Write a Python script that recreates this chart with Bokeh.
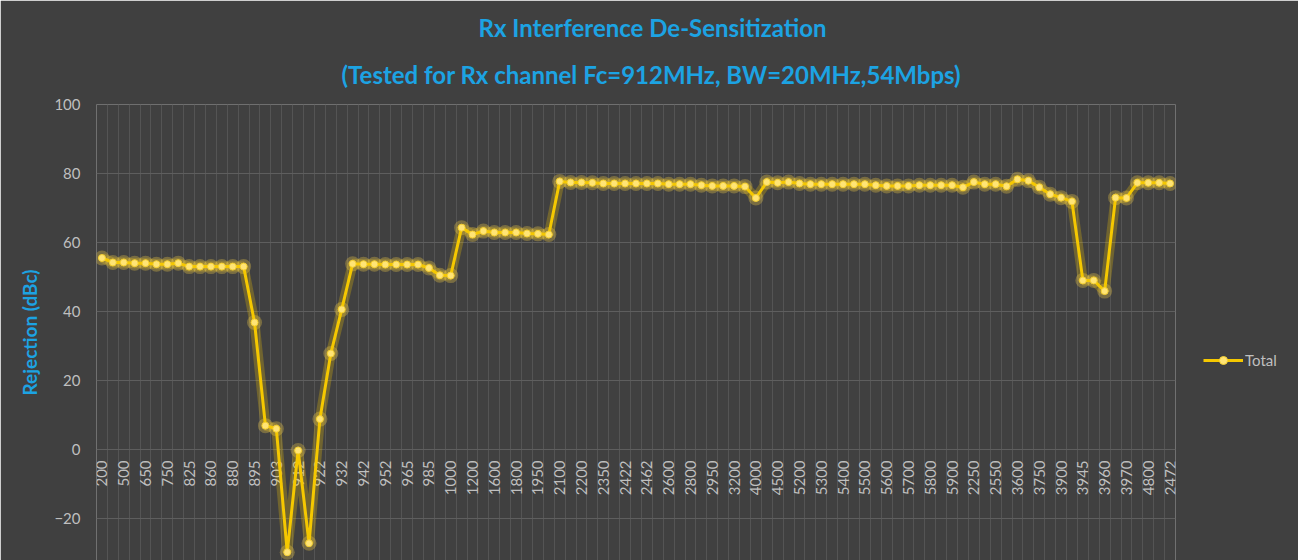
from bokeh.plotting import figure
from bokeh.models import (ColumnDataSource, Title, Legend, LegendItem, FixedTicker)
from bokeh.core.properties import value
from bokeh.embed import file_html
from bokeh.resources import INLINE
import math

# ---- data ----
x_labels = ["200", "500", "650", "750", "825", "860", "880", "895", "903", "912",
            "922", "932", "942", "952", "965", "985", "1000", "1200", "1600", "1800",
            "1950", "2100", "2200", "2350", "2422", "2462", "2600", "2800", "2950", "3200",
            "4000", "4500", "5200", "5300", "5400", "5500", "5600", "5700", "5800", "5900",
            "2250", "2550", "3600", "3750", "3900", "3945", "3960", "3970", "4800", "2472"]

rejection = [55.5, 54.2, 54.2, 54.0, 54.0, 53.7, 53.7, 54.0, 53.0, 53.0,
             53.0, 53.0, 53.0, 53.0, 36.8, 6.9, 6.0, -29.8, -0.3, -27.2,
             8.8, 27.8, 40.6, 53.8, 53.7, 53.7, 53.6, 53.6, 53.6, 53.6,
             52.6, 50.5, 50.4, 64.3, 62.3, 63.3, 62.9, 62.9, 62.9, 62.6,
             62.5, 62.3, 77.7, 77.4, 77.4, 77.3, 77.1, 77.1, 77.1, 77.1,
             77.1, 77.1, 76.9, 76.9, 76.9, 76.6, 76.4, 76.4, 76.4, 76.2,
             72.9, 77.5, 77.3, 77.5, 77.1, 76.9, 76.9, 76.9, 76.9, 76.9,
             76.9, 76.6, 76.4, 76.4, 76.4, 76.6, 76.6, 76.6, 76.6, 76.0,
             77.5, 76.9, 76.9, 76.3, 78.3, 77.9, 76.0, 74.0, 73.0, 71.9,
             49.0, 49.0, 45.9, 73.0, 72.9, 77.3, 77.3, 77.3, 77.1]

y_ticks = [-20, 0, 20, 40, 60, 80, 100]
series_name = "Total"
title_1 = "Rx Interference De-Sensitization"
title_2 = "(Tested for Rx channel Fc=912MHz, BW=20MHz,54Mbps)"
y_title = "Rejection (dBc)"

n = len(rejection)
idx = list(range(n))
src = ColumnDataSource(dict(x=idx, y=rejection))
lab_src = ColumnDataSource(dict(x=[2 * i for i in range(len(x_labels))],
                                y=[0] * len(x_labels), t=x_labels))

BG = "#404040"
GRAY = "#BFBFBF"
BLUE = "#1CA3E3"
FONT = "Lato"

p = figure(frame_width=1079, frame_height=456, x_range=(-0.5, n - 0.5),
           y_range=(-32.2, 100),
           output_backend="svg", toolbar_location=None,
           background_fill_color=BG, border_fill_color=BG,
           min_border_left=96, min_border_right=115, min_border_top=104,
           min_border_bottom=0, outline_line_color=None)

# titles
p.add_layout(Title(text=title_2, align="left", offset=245, text_color=BLUE,
                   text_font=FONT, text_font_size="24px", text_font_style="bold",
                   text_line_height=1.0, standoff=32), "above")
p.add_layout(Title(text=title_1, align="left", offset=382, text_color=BLUE,
                   text_font=FONT, text_font_size="24px", text_font_style="bold",
                   text_line_height=1.0, standoff=0), "above")

# grid
p.xgrid.ticker = FixedTicker(ticks=[i - 0.5 for i in range(n + 1)])
p.xgrid.grid_line_color = "#545454"
p.xgrid.grid_line_width = 1
p.ygrid.ticker = FixedTicker(ticks=y_ticks)
p.ygrid.grid_line_color = "#5E5E5E"
p.ygrid.grid_line_width = 1

# axes
p.xaxis.visible = False
p.yaxis.ticker = FixedTicker(ticks=y_ticks)
p.yaxis.axis_line_color = None
p.yaxis.major_tick_line_color = None
p.yaxis.minor_tick_line_color = None
p.yaxis.major_tick_out = 0
p.yaxis.major_label_standoff = 16
p.yaxis.major_label_text_color = GRAY
p.yaxis.major_label_text_font = FONT
p.yaxis.major_label_text_font_size = "15px"
p.yaxis.axis_label = y_title
p.yaxis.axis_label_text_color = BLUE
p.yaxis.axis_label_text_font = FONT
p.yaxis.axis_label_text_font_size = "19px"
p.yaxis.axis_label_text_font_style = "bold"
p.yaxis.axis_label_standoff = 10

# category labels at y=0
p.text(x="x", y="y", text="t", source=lab_src, angle=math.pi / 2,
       text_align="right", text_baseline="middle", y_offset=11,
       text_color=GRAY, text_font=value(FONT), text_font_size="15px")

# glow
p.line("x", "y", source=src, line_color="#FFD000", line_width=10, line_alpha=0.25)
p.scatter("x", "y", source=src, size=15, fill_color="#FFD84A", fill_alpha=0.3,
          line_color=None)
# series
ln = p.line("x", "y", source=src, line_color="#F5C800", line_width=3)
mk = p.scatter("x", "y", source=src, size=7, fill_color="#FFE475", line_color="#F5D030",
               line_width=1)

legend = Legend(items=[LegendItem(label=series_name, renderers=[ln, mk])],
                location=(28, 190), background_fill_alpha=0, border_line_color=None,
                label_text_color=GRAY, label_text_font=FONT, label_text_font_size="15px",
                glyph_width=40, label_standoff=2, padding=0, margin=0)
p.add_layout(legend, "right")

open("out.html", "w").write(file_html(p, INLINE))
